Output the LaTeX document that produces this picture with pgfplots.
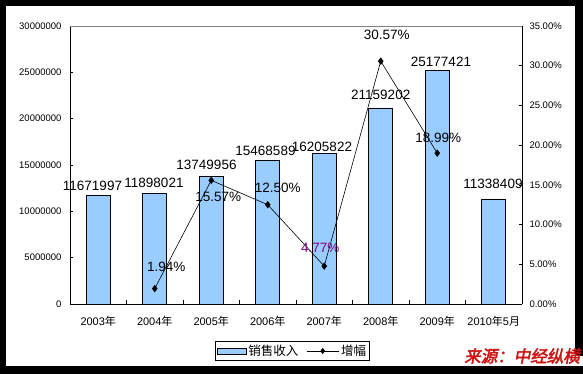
\documentclass[border=0pt]{standalone}
\usepackage{pgfplots}
\pgfplotsset{compat=1.18}
\usepackage{pgfplotstable}
\usepackage{fontspec}
\setmainfont{Liberation Sans}
\newfontfamily\cjk{Noto Sans CJK SC}
\newfontfamily\srcfont[FakeBold=2.5,FakeSlant=0.2]{Noto Sans CJK SC}
\definecolor{barblue}{HTML}{99CCFF}
\definecolor{srcred}{HTML}{CC1111}
\definecolor{labpurple}{HTML}{800080}

\pgfplotstableread{
x y dx dy
0 11671997 -5.75 9.8
1 11898021 -0.75 10.7
2 13749956 -4.75 11.6
3 15468589 -2.25 10.2
4 16205822 -2.25 7
5 21159202 0 13
6 25177421 3.75 9
7 11338409 -0.75 15.5
}\bardata

\pgfplotstableread{
x y
1 1.94
2 15.57
3 12.50
4 4.77
5 30.57
6 18.99
}\growdata

\pgfplotstableread{
x y dx dy
1 1.94 11.5 22
2 15.57 7 -17
3 12.50 10 17
5 30.57 6 26
6 18.99 1 15
}\growlab

\pgfplotstableread{
x y dx dy
4 4.77 -4 18
}\growlabp

\begin{document}
\begin{tikzpicture}
\useasboundingbox (0,0) rectangle (583pt,374pt);
\fill[black] (0,0) rectangle (583pt,374pt);
\fill[white] (6pt,8pt) rectangle (575pt,368pt);
\fill[white] (470pt,7.5pt) rectangle (583pt,18pt);

\begin{axis}[
  at={(70pt,70pt)}, anchor=south west,
  width=452pt, height=278pt, scale only axis,
  xmin=-0.5, xmax=7.5, ymin=0, ymax=30000000,
  axis x line*=bottom, axis y line*=left,
  axis line style={black, line width=0.8pt},
  tick align=inside, major tick length=3pt, minor tick length=4pt,
  tick style={black, line width=0.6pt},
  xtick={0,...,7},
  xticklabels={2003{\cjk 年},2004{\cjk 年},2005{\cjk 年},2006{\cjk 年},2007{\cjk 年},2008{\cjk 年},2009{\cjk 年},2010{\cjk 年}5{\cjk 月}},
  major x tick style={draw=none},
  minor xtick={0.5,1.5,...,6.5},
  xticklabel style={font=\fontsize{11}{12}\selectfont, yshift=-8.5pt},
  ytick distance=5000000, scaled y ticks=false,
  yticklabel={\pgfmathprintnumber[fixed,precision=0,1000 sep={},assume math mode=true]{\tick}},
  yticklabel style={font=\fontsize{9.5}{10}\selectfont, xshift=-5pt},
  clip=false,
]
\addplot[ybar, bar width=24pt, fill=barblue, draw=black, line width=0.7pt,
  nodes near coords,
  point meta=explicit symbolic,
  visualization depends on={\thisrow{dx}\as\dx},
  visualization depends on={\thisrow{dy}\as\dy},
  every node near coord/.append style={anchor=center, inner sep=0pt,
     font=\fontsize{13.5}{14}\selectfont, xshift=\dx pt, yshift=\dy pt}
  ] table[x=x, y=y, meta=y] {\bardata};
\end{axis}

\begin{axis}[
  at={(70pt,70pt)}, anchor=south west,
  width=452pt, height=278pt, scale only axis,
  xmin=-0.5, xmax=7.5, ymin=0, ymax=35,
  axis x line*=top, axis y line*=right,
  x axis line style={draw=gray, line width=0.8pt},
  y axis line style={draw=black, line width=0.8pt},
  xtick=\empty,
  tick align=inside, major tick length=3pt,
  tick style={black, line width=0.6pt},
  ytick distance=5,
  yticklabel={\pgfmathprintnumber[fixed,fixed zerofill,precision=2,assume math mode=true]{\tick}\%},
  yticklabel style={font=\fontsize{9.5}{10}\selectfont, xshift=4pt},
  clip=false,
  legend style={at={(0.492,-0.169)}, anchor=center, draw=black, line width=0.8pt,
     font=\fontsize{12.5}{13}\selectfont, legend columns=2,
     inner sep=1.5pt, row sep=0pt,
     /tikz/every even column/.append style={column sep=6pt}},
]
\addlegendimage{legend image code/.code={\draw[fill=barblue, draw=black, line width=0.7pt] (0pt,-3pt) rectangle (29pt,3pt);}}
\addlegendentry{{\cjk 销售收入}}
\addplot[black, line width=0.6pt, mark=diamond*, mark size=3.2pt,
  mark options={fill=black},
  legend image code/.code={\draw[black, line width=0.6pt, mark=diamond*, mark size=2.6pt, mark options={fill=black}, mark repeat=2, mark phase=2] plot coordinates {(0pt,0pt) (16pt,0pt) (32pt,0pt)};}
  ] table[x=x, y=y] {\growdata};
\addlegendentry{{\cjk 增幅}}
\addplot[draw=none, mark=none, forget plot,
  nodes near coords={\pgfplotspointmeta\%},
  point meta=explicit symbolic,
  visualization depends on={\thisrow{dx}\as\dx},
  visualization depends on={\thisrow{dy}\as\dy},
  every node near coord/.append style={anchor=center, inner sep=0pt,
     font=\fontsize{13.5}{14}\selectfont, xshift=\dx pt, yshift=\dy pt, text=black}
  ] table[x=x, y=y, meta=y] {\growlab};
\addplot[draw=none, mark=none, forget plot,
  nodes near coords={\pgfplotspointmeta\%},
  point meta=explicit symbolic,
  visualization depends on={\thisrow{dx}\as\dx},
  visualization depends on={\thisrow{dy}\as\dy},
  every node near coord/.append style={anchor=center, inner sep=0pt,
     font=\fontsize{13.5}{14}\selectfont, xshift=\dx pt, yshift=\dy pt, text=labpurple}
  ] table[x=x, y=y, meta=y] {\growlabp};
\end{axis}

\node[anchor=east, inner sep=0pt, text=srcred, font=\srcfont\fontsize{16.5}{17}\selectfont] at (580pt,18pt) {来源：中经纵横};
\end{tikzpicture}
\end{document}
